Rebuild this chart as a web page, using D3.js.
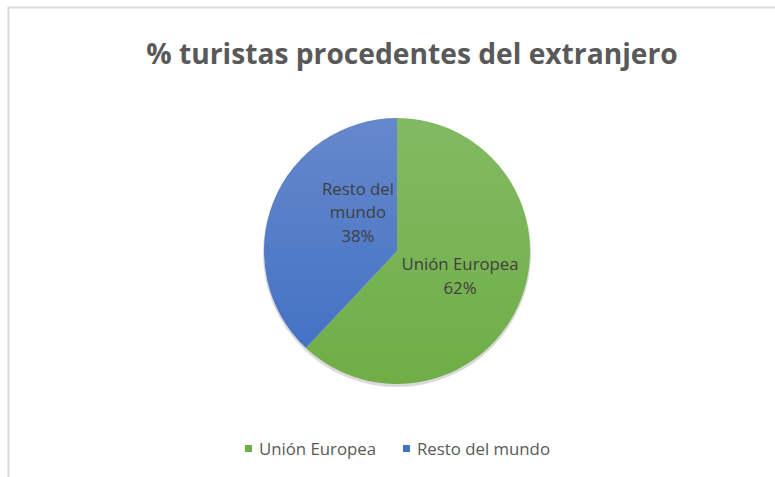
<!DOCTYPE html>
<html>
<head>
<meta charset="utf-8">
<script src="https://cdn.jsdelivr.net/npm/d3@7"></script>
<style>
  body { margin: 0; background: #fff; }
  svg text { font-family: "Open Sans", "Noto Sans", sans-serif; }
</style>
</head>
<body>
<div id="chart"></div>
<script>
const categories = ["Unión Europea", "Resto del mundo"];
const values = [62, 38];
const pctLabels = ["62%", "38%"];
const colors = ["#70ad47", "#4472c4"];
const lightColors = ["#82ba63", "#6688cc"];

const width = 775, height = 477;
const svg = d3.select("#chart").append("svg")
    .attr("width", width)
    .attr("height", height);

// chart frame (only the top and left edges are visible)
svg.append("path")
    .attr("d", "M8.5,477 L8.5,7.5 L775,7.5")
    .attr("fill", "none")
    .attr("stroke", "#d9d9d9")
    .attr("stroke-width", 2);

svg.append("text")
    .attr("x", 412)
    .attr("y", 64)
    .attr("text-anchor", "middle")
    .attr("font-size", 28.2)
    .attr("font-weight", "bold")
    .attr("fill", "#595959")
    .text("% turistas procedentes del extranjero");

const defs = svg.append("defs");
categories.forEach((c, i) => {
    const g = defs.append("linearGradient")
        .attr("id", "grad" + i)
        .attr("x1", 0).attr("y1", 0).attr("x2", 0).attr("y2", 1);
    g.append("stop").attr("offset", "0%").attr("stop-color", lightColors[i]);
    g.append("stop").attr("offset", "100%").attr("stop-color", colors[i]);
});

const cx = 397, cy = 251, r = 133;
const pie = d3.pie().sort(null).value(d => d);
const arc = d3.arc().innerRadius(0).outerRadius(r);
const arcs = pie(values);

const g = svg.append("g").attr("transform", `translate(${cx},${cy})`);

// soft shadow under the pie
g.append("circle")
    .attr("cx", 0).attr("cy", 2).attr("r", r + 1)
    .attr("fill", "#bfbfbf")
    .attr("opacity", 0.6);

g.selectAll("path.slice")
    .data(arcs)
    .enter()
    .append("path")
    .attr("class", "slice")
    .attr("d", arc)
    .attr("fill", (d, i) => `url(#grad${i})`)
    .attr("stroke", "none");

// data labels (best fit: the narrow slice label is pulled toward the centre)
const labelLines = [
    [categories[0], pctLabels[0]],
    ["Resto del", "mundo", pctLabels[1]]
];
const nudge = [[0, 0], [24, -14]];
const labelArc = d3.arc().innerRadius(r * 0.51).outerRadius(r * 0.51);
arcs.forEach((a, i) => {
    let [x, y] = labelArc.centroid(a);
    x += nudge[i][0];
    y += nudge[i][1];
    const lines = labelLines[i];
    const lh = 23.5;
    const t = g.append("text")
        .attr("text-anchor", "middle")
        .attr("font-size", 16.8)
        .attr("fill", "#404040");
    lines.forEach((ln, j) => {
        t.append("tspan")
            .attr("x", x)
            .attr("y", y + (j - (lines.length - 1) / 2) * lh + 6)
            .text(ln);
    });
});

// legend
const legend = svg.append("g").attr("transform", "translate(245,449)");
const legendX = [0, 158];
categories.forEach((c, i) => {
    const item = legend.append("g").attr("transform", `translate(${legendX[i]},0)`);
    item.append("rect")
        .attr("x", 0).attr("y", -4)
        .attr("width", 7).attr("height", 7)
        .attr("fill", colors[i]);
    item.append("text")
        .attr("x", 14).attr("y", 6)
        .attr("font-size", 16.8)
        .attr("fill", "#595959")
        .text(c);
});
</script>
</body>
</html>
